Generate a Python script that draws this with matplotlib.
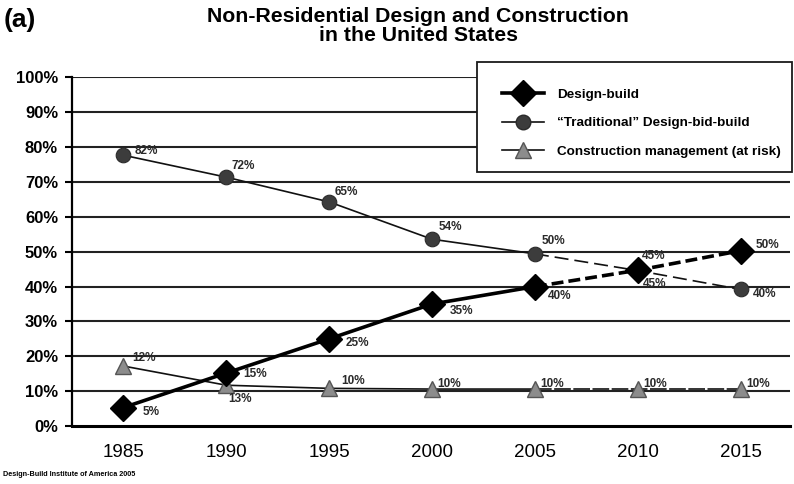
import matplotlib
matplotlib.use("Agg")
import matplotlib.pyplot as plt
from matplotlib import font_manager as fm
from matplotlib.patches import Rectangle
from matplotlib.lines import Line2D

# ---- data ----
years = [1985, 1990, 1995, 2000, 2005, 2010, 2015]
design_build = [5.3, 15.2, 25.0, 35.0, 40.0, 44.7, 50.3]
design_build_labels = ["5%", "15%", "25%", "35%", "40%", "45%", "50%"]
traditional = [77.7, 71.4, 64.3, 53.6, 49.4, 44.6, 39.2]
traditional_labels = ["82%", "72%", "65%", "54%", "50%", "45%", "40%"]
cm_at_risk = [17.2, 11.7, 10.8, 10.6, 10.6, 10.6, 10.6]
cm_labels = ["12%", "13%", "10%", "10%", "10%", "10%", "10%"]
y_ticks = [0, 10, 20, 30, 40, 50, 60, 70, 80, 90, 100]
y_tick_labels = [f"{v}%" for v in y_ticks]
series_names = ["Design-build", "\u201cTraditional\u201d Design-bid-build",
                "Construction management (at risk)"]
title_lines = ["Non-Residential Design and Construction", "in the United States"]
split = 4  # index of 2005: projection (dashed) starts here

# ---- label offsets in points (style) ----
db_off = [(14, -3), (12, -1), (12, -3), (13, -5), (9, -7), (3, 10), (11, 4)]
tr_off = [(8, 3), (4, 8), (4, 7), (5, 9), (5, 9), (4, -10), (9, -3)]
cm_off = [(6, 6), (10, -10), (9, 5), (4, 4), (4, 4), (4, 4), (4, 4)]

names = {f.name for f in fm.fontManager.ttflist}
BASE = "Liberation Sans" if "Liberation Sans" in names else "DejaVu Sans"
plt.rcParams["font.family"] = [BASE, "DejaVu Sans"]

fig = plt.figure(figsize=(7.94, 4.84), dpi=100)
ax = fig.add_axes([72 / 794, 1 - 426 / 484, (790 - 72) / 794, (426 - 77.5) / 484])

ax.set_xlim(1982.5, 2017.4)
ax.set_ylim(0, 100)

# gridlines
for v in y_ticks[1:]:
    ax.axhline(v, color="#222222", lw=1.5, zorder=1)

ax.spines["top"].set_visible(False)
ax.spines["right"].set_visible(False)
ax.spines["left"].set_linewidth(1.6)
ax.spines["bottom"].set_linewidth(2.2)

ax.set_yticks(y_ticks)
ax.set_yticklabels(y_tick_labels, fontsize=12, fontweight="bold")
ax.tick_params(axis="y", length=5, width=1.5, pad=5, direction="out")
ax.set_xticks(years)
ax.set_xticklabels([str(y) for y in years], fontsize=13.5)
ax.tick_params(axis="x", length=0, pad=13)

# CM at risk
ax.plot(years[:split + 1], cm_at_risk[:split + 1], color="#111111", lw=1.2, zorder=2)
ax.plot(years[split:], cm_at_risk[split:], color="#111111", lw=1.2, zorder=2,
        dashes=(10, 1.5))
ax.plot(years, cm_at_risk, ls="none", marker="^", ms=12, mfc="#8c8c8c",
        mec="#555555", mew=1.0, zorder=3)

# Traditional
ax.plot(years[:split + 1], traditional[:split + 1], color="#111111", lw=1.2, zorder=4)
ax.plot(years[split:], traditional[split:], color="#111111", lw=1.2, zorder=4,
        dashes=(8.4, 3.6))
ax.plot(years, traditional, ls="none", marker="o", ms=10.5, mfc="#3c3c3c",
        mec="#2a2a2a", mew=0.8, zorder=5)

# Design-build
ax.plot(years[:split + 1], design_build[:split + 1], color="black", lw=2.6, zorder=6)
ax.plot(years[split:], design_build[split:], color="black", lw=2.6, zorder=6,
        dashes=(3.3, 1.4))
ax.plot(years, design_build, ls="none", marker="D", ms=13, mfc="black",
        mec="black", zorder=7)

lab_kw = dict(textcoords="offset points", fontsize=8.5, fontweight="bold",
              color="#2a2a2a", zorder=9)
for x, y, t, o in zip(years, design_build, design_build_labels, db_off):
    ax.annotate(t, (x, y), xytext=o, ha="left", va="center", **lab_kw)
for x, y, t, o in zip(years, traditional, traditional_labels, tr_off):
    ax.annotate(t, (x, y), xytext=o, ha="left", va="center", **lab_kw)
for x, y, t, o in zip(years, cm_at_risk, cm_labels, cm_off):
    ax.annotate(t, (x, y), xytext=o, ha="left" if o[1] > 0 else "center",
                va="center", **lab_kw)

# legend box (manual frame)
box = Rectangle((0.564, 0.7288), 0.4387, 0.3156, transform=ax.transAxes,
                facecolor="white", edgecolor="#1a1a1a", lw=1.3, zorder=10,
                clip_on=False)
ax.add_patch(box)
handles = [
    Line2D([], [], color="black", lw=2.6, marker="D", ms=13, mfc="black"),
    Line2D([], [], color="#111111", lw=1.2, marker="o", ms=10.5, mfc="#3c3c3c",
           mec="#2a2a2a"),
    Line2D([], [], color="#111111", lw=1.2, marker="^", ms=12, mfc="#8c8c8c",
           mec="#555555"),
]
leg = ax.legend(handles, series_names, loc="upper left",
                bbox_to_anchor=(0.599, 0.969), frameon=False, borderpad=0,
                borderaxespad=0, handlelength=3.1, handletextpad=1.0,
                labelspacing=1.2, prop={"family": BASE, "weight": "bold", "size": 9.7})
leg.set_zorder(11)

# titles
fig.text(0.5265, 1 - 22 / 484, title_lines[0], ha="center", va="baseline",
         fontsize=15.3, fontweight="bold")
fig.text(0.5265, 1 - 41 / 484, title_lines[1], ha="center", va="baseline",
         fontsize=15.3, fontweight="bold")
fig.text(0.004, 0.984, "(a)", ha="left", va="top", fontsize=19, fontweight="bold")

fig.text(0.004, 1 - 475 / 484, "Design-Build Institute of America 2005", ha="left",
         va="center", fontsize=5.2, fontweight="bold")

fig.savefig("out.png", dpi=100)
